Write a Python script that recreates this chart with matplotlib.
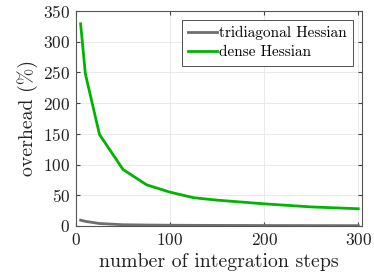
import numpy as np
import matplotlib
matplotlib.use("Agg")
import matplotlib.pyplot as plt

plt.rcParams['font.family'] = 'serif'
plt.rcParams['font.serif'] = ['cmr10']
plt.rcParams['mathtext.fontset'] = 'cm'
plt.rcParams['axes.formatter.use_mathtext'] = True

steps = [5, 10, 25, 50, 75, 100, 125, 150, 200, 250, 300]
tridiagonal = [9.5, 7.5, 4, 2, 1.5, 1.2, 1, 0.9, 0.7, 0.6, 0.5]
dense = [329, 248, 149, 92, 67, 55, 46, 42, 36, 31, 28]

fig = plt.figure(figsize=(3.74, 2.80), dpi=100)
ax = fig.add_axes([0.203, 0.193, 0.765, 0.768])

ax.plot(steps, tridiagonal, color='#6e6e6e', lw=2.0, label='tridiagonal Hessian')
ax.plot(steps, dense, color='#00b400', lw=2.0, label='dense Hessian')

ax.set_xlim(0, 304)
ax.set_ylim(0, 350)
ax.set_xticks([0, 100, 200, 300])
ax.set_yticks(np.arange(0, 351, 50))
ax.grid(True, color='#e6e6e6', lw=0.6)
ax.tick_params(direction='in', top=True, right=True, length=3, labelsize=12.5,
               color='#444444', labelcolor='#222222', pad=4)
for s in ax.spines.values():
    s.set_color('#555555')
    s.set_linewidth(0.8)

ax.set_xlabel('number of integration steps', fontsize=14.3, color='#222222', labelpad=4)
ax.set_ylabel('overhead (%)', fontsize=14.3, color='#222222', labelpad=4)

leg = ax.legend(loc='upper right', fontsize=11, fancybox=False, framealpha=1,
                edgecolor='#333333', handlelength=1.9, handletextpad=0.15,
                borderpad=0.4, labelspacing=0.35, borderaxespad=0.6)
leg.get_frame().set_linewidth(0.6)

fig.savefig('out.png', dpi=100)
